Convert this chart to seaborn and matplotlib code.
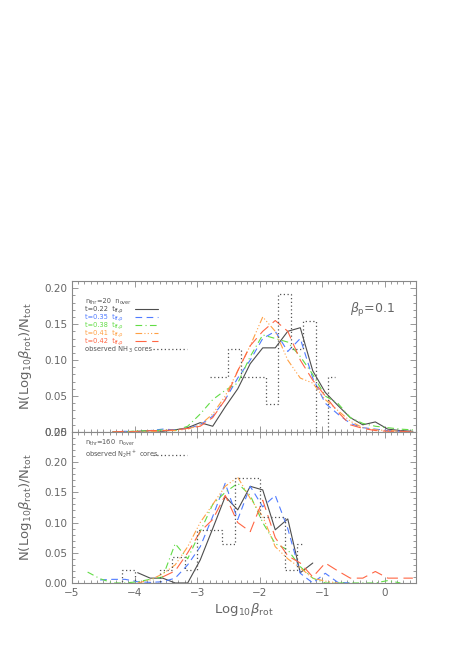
import numpy as np
import pandas as pd
import matplotlib
matplotlib.use('Agg')
import matplotlib.pyplot as plt
import seaborn as sns
from matplotlib.ticker import MultipleLocator

sns.set_style('ticks')
plt.rcParams['font.family'] = ['DejaVu Sans']
plt.rcParams['mathtext.fontset'] = 'dejavusans'

nan = np.nan

# x positions of the simulated distributions (Log10 beta_rot)
log_beta = [-4.95, -4.75, -4.55, -4.35, -4.15, -3.95, -3.75, -3.55, -3.35, -3.15,
            -2.95, -2.75, -2.55, -2.35, -2.15, -1.95, -1.75, -1.55, -1.35, -1.15,
            -0.95, -0.75, -0.55, -0.35, -0.15, 0.05, 0.25, 0.45]

# top panel: n_thr = 20 n_over
top_t022 = [nan, nan, nan, 0.0, 0.0, 0.001, 0.002, 0.001, 0.003, 0.006,
            0.013, 0.008, 0.035, 0.060, 0.095, 0.117, 0.117, 0.140, 0.145, 0.085,
            0.055, 0.037, 0.020, 0.010, 0.014, 0.004, 0.002, 0.001]
top_t035 = [nan, nan, nan, 0.0, 0.001, 0.0, 0.002, 0.004, 0.003, 0.005,
            0.010, 0.022, 0.045, 0.075, 0.100, 0.130, 0.140, 0.112, 0.130, 0.075,
            0.040, 0.025, 0.012, 0.006, 0.004, 0.002, 0.001, 0.0]
top_t038 = [nan, nan, nan, 0.0, 0.0, 0.002, 0.001, 0.003, 0.002, 0.008,
            0.025, 0.045, 0.058, 0.068, 0.105, 0.135, 0.130, 0.125, 0.105, 0.080,
            0.050, 0.040, 0.020, 0.012, 0.008, 0.006, 0.004, 0.003]
top_t041 = [nan, nan, nan, 0.0, 0.0, 0.001, 0.0, 0.002, 0.002, 0.004,
            0.010, 0.025, 0.050, 0.085, 0.120, 0.160, 0.140, 0.100, 0.075, 0.068,
            0.045, 0.030, 0.015, 0.006, 0.003, 0.002, 0.001, 0.0]
top_t042 = [nan, nan, nan, 0.0, 0.001, 0.0, 0.002, 0.002, 0.003, 0.005,
            0.008, 0.020, 0.045, 0.085, 0.120, 0.140, 0.155, 0.140, 0.100, 0.072,
            0.050, 0.028, 0.010, 0.005, 0.002, 0.001, 0.001, 0.0]

# bottom panel: n_thr = 160 n_over
bot_t022 = [nan, nan, nan, nan, nan, 0.017, 0.008, 0.008, 0.0, 0.0,
            0.038, 0.090, 0.143, 0.121, 0.160, 0.154, 0.088, 0.106, 0.017, 0.033,
            nan, nan, nan, nan, nan, nan, nan, nan]
bot_t035 = [nan, nan, 0.005, 0.006, 0.006, 0.002, 0.001, 0.002, 0.008, 0.030,
            0.060, 0.110, 0.165, 0.105, 0.160, 0.126, 0.145, 0.090, 0.016, 0.0,
            0.016, 0.001, 0.0, nan, nan, nan, nan, nan]
bot_t038 = [nan, 0.018, 0.007, 0.0, 0.0, 0.002, 0.006, 0.010, 0.065, 0.040,
            0.085, 0.130, 0.150, 0.165, 0.145, 0.100, 0.065, 0.055, 0.027, 0.008,
            0.0, 0.0, 0.0, 0.0, 0.0, 0.004, 0.0, nan]
bot_t041 = [nan, nan, nan, nan, nan, 0.0, 0.005, 0.015, 0.030, 0.060,
            0.100, 0.130, 0.160, 0.175, 0.140, 0.110, 0.060, 0.040, 0.025, 0.008,
            0.003, 0.0, nan, nan, nan, nan, nan, nan]
bot_t042 = [nan, nan, nan, nan, nan, nan, nan, 0.010, 0.020, 0.050,
            0.085, 0.105, 0.145, 0.100, 0.085, 0.137, 0.075, 0.045, 0.033, 0.010,
            0.033, 0.020, 0.008, 0.008, 0.019, 0.008, 0.008, 0.008]

# observed cores (bin centres and fractions)
nh3_centres = [-2.8, -2.6, -2.4, -2.2, -2.0, -1.8, -1.6, -1.4, -1.2, -1.0, -0.8]
nh3_frac = [2/26, 2/26, 3/26, 2/26, 2/26, 1/26, 5/26, 3/26, 4/26, 0.0, 2/26]
n2h_centres = [-4.3, -4.1, -3.9, -3.7, -3.5, -3.3, -3.1, -2.9, -2.7, -2.5,
               -2.3, -2.1, -1.9, -1.7, -1.5, -1.3]
n2h_frac = [0.0, 1/46, 0.0, 0.0, 1/46, 2/46, 1/46, 4/46, 4/46, 3/46,
            8/46, 8/46, 5/46, 5/46, 1/46, 3/46]

times = ['0.22', '0.35', '0.38', '0.41', '0.42']
colors = ['#4d4d4d', '#4f7bff', '#62dc46', '#ffa044', '#ff6644']
styles = ['-', (0, (6, 4)), (0, (6, 3, 1, 3)), (0, (6, 2, 1, 2, 1, 2, 1, 2)), (0, (10, 5))]
gray = '#555555'

top_df = pd.DataFrame({'x': log_beta, '0.22': top_t022, '0.35': top_t035,
                       '0.38': top_t038, '0.41': top_t041, '0.42': top_t042})
bot_df = pd.DataFrame({'x': log_beta, '0.22': bot_t022, '0.35': bot_t035,
                       '0.38': bot_t038, '0.41': bot_t041, '0.42': bot_t042})


def rich_text(ax, x, y, parts, color, fs=4.8, sub_fs=3.6):
    # plain text pieces chained one after another, subscripts a bit lower
    prev = ax.text(x, y, parts[0][0], fontsize=fs, color=color)
    prev_sub = parts[0][1]
    for s, is_sub in parts[1:]:
        dy = 0.0
        if is_sub and not prev_sub:
            dy = -1.0
        if prev_sub and not is_sub:
            dy = 1.0
        prev = ax.annotate(s, xy=(1, 0), xycoords=prev, xytext=(0.15, dy),
                           textcoords='offset points', va='bottom', ha='left',
                           fontsize=sub_fs if is_sub else fs, color=color)
        prev_sub = is_sub


fig = plt.figure(figsize=(4.6, 6.51), dpi=100)
ax1 = fig.add_axes([0.1565, 0.3364, 0.7478, 0.232])
ax2 = fig.add_axes([0.1565, 0.1045, 0.7478, 0.232])

for ax, df in [(ax1, top_df), (ax2, bot_df)]:
    for t, c, ls in zip(times, colors, styles):
        d = df[['x', t]].dropna()
        sns.lineplot(x=d['x'], y=d[t], ax=ax, color=c, linestyle=ls, lw=0.8, sort=False)

sns.lineplot(x=nh3_centres, y=nh3_frac, ax=ax1, color=gray, linestyle=(0, (1, 2)),
             lw=0.9, drawstyle='steps-mid', sort=False)
sns.lineplot(x=n2h_centres, y=n2h_frac, ax=ax2, color=gray, linestyle=(0, (1, 2)),
             lw=0.9, drawstyle='steps-mid', sort=False)

for ax, top in [(ax1, 0.21), (ax2, 0.25)]:
    ax.set_xlim(-5, 0.5)
    ax.set_ylim(0, top)
    ax.xaxis.set_major_locator(MultipleLocator(1))
    ax.xaxis.set_minor_locator(MultipleLocator(0.1))
    ax.yaxis.set_major_locator(MultipleLocator(0.05))
    ax.yaxis.set_minor_locator(MultipleLocator(0.01))
    ax.tick_params(which='both', direction='in', top=True, right=True,
                   color='#888888', width=0.6, labelsize=7.5, labelcolor='#666666')
    ax.tick_params(which='major', length=4.5)
    ax.tick_params(which='minor', length=2.2)
    for s in ax.spines.values():
        s.set_color('#888888')
        s.set_linewidth(0.8)
    ax.yaxis.set_major_formatter(matplotlib.ticker.FormatStrFormatter('%.2f'))
    ax.set_ylabel(r'N(Log$_{10}\beta_{\rm rot}$)/N$_{\rm tot}$', fontsize=9.5,
                  color='#666666', labelpad=7)
    ax.set_xlabel('')

ax1.tick_params(labelbottom=False)
ax2.set_xlabel(r'Log$_{10}\beta_{\rm rot}$', fontsize=9.5, color='#666666', labelpad=2)

# legend-like annotations, top panel
rich_text(ax1, -4.79, 0.1794, [('n', False), ('thr', True), ('=20  n', False), ('over', True)], '#555555')
row_y = [0.1683, 0.1572, 0.1460, 0.1349, 0.1238]
for t, c, ls, ry in zip(times, colors, styles, row_y):
    rich_text(ax1, -4.79, ry, [('t=' + t + '  t', False), ('ff,\u03c1', True)], c)
    ax1.plot([-3.99, -3.62], [ry + 0.003, ry + 0.003], color=c, linestyle=ls, lw=0.8)
rich_text(ax1, -4.79, 0.1127, [('observed NH', False), ('3', True), (' cores', False)], '#555555')
ax1.plot([-3.70, -3.16], [0.1155, 0.1155], color=gray, linestyle=(0, (1, 2)), lw=0.9)
ax1.text(-0.55, 0.166, r'$\beta_{\rm p}$=0.1', fontsize=9, color='#666666')

# bottom panel
ax2.text(-4.79, 0.2285, r'n$_{\rm thr}$=160  n$_{\rm over}$', fontsize=4.8, color='#555555')
ax2.text(-4.79, 0.2086, r'observed N$_2$H$^+$ cores', fontsize=4.8, color='#555555')
ax2.plot([-3.70, -3.16], [0.2115, 0.2115], color=gray, linestyle=(0, (1, 2)), lw=0.9)

fig.savefig('out.png', dpi=100, facecolor='white')
